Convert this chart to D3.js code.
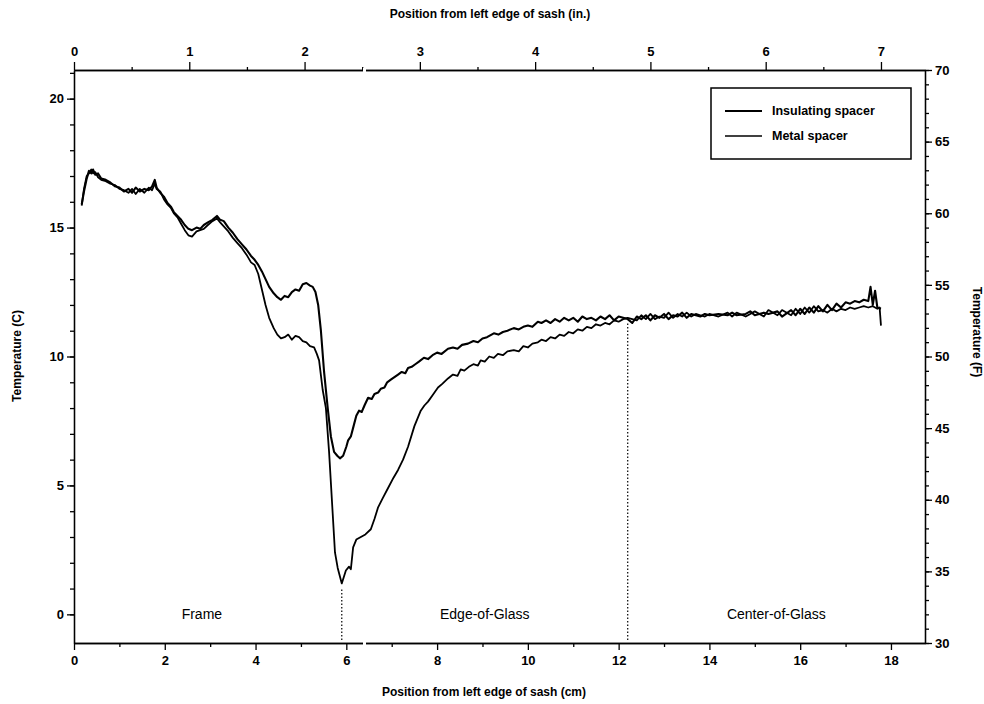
<!DOCTYPE html>
<html>
<head>
<meta charset="utf-8">
<script src="https://cdnjs.cloudflare.com/ajax/libs/d3/7.8.5/d3.min.js"></script>
<style>
body { margin: 0; background: #fff; }
svg { font-family: "Liberation Sans", Arial, sans-serif; }
.axis path, .axis line { stroke: #000; stroke-width: 1.3; }
.axis text { font-size: 13px; font-weight: bold; fill: #000; }
.title { font-size: 12px; font-weight: bold; }
</style>
</head>
<body>
<script>
// data (cm, deg C)
var insulX = [0.17,0.22,0.28,0.33,0.38,0.42,0.47,0.53,0.6,0.7,0.8,0.9,1.0,1.1,1.2,1.28,1.36,1.45,1.55,1.65,1.72,1.78,1.82,1.9,1.98,2.06,2.14,2.2,2.28,2.36,2.44,2.52,2.6,2.7,2.78,2.86,2.95,3.05,3.15,3.22,3.3,3.4,3.5,3.6,3.7,3.8,3.9,3.98,4.06,4.14,4.22,4.3,4.4,4.48,4.56,4.64,4.72,4.8,4.88,4.96,5.04,5.12,5.2,5.26,5.32,5.38,5.44,5.51,5.59,5.66,5.73,5.8,5.86,5.93,6.0,6.04,6.1,6.16,6.22,6.28,6.34,6.4,6.48,6.56,6.62,6.7,6.76,6.84,6.9,6.98,7.06,7.14,7.22,7.3,7.36,7.44,7.52,7.6,7.71,7.8,7.9,8.0,8.1,8.24,8.35,8.45,8.55,8.68,8.8,8.9,9.0,9.1,9.25,9.35,9.45,9.55,9.69,9.8,9.9,10.0,10.1,10.22,10.3,10.4,10.5,10.6,10.7,10.8,10.9,11.0,11.1,11.2,11.3,11.4,11.5,11.6,11.7,11.8,11.9,12.0,12.1,12.2,12.3,12.4,12.5,12.6,12.7,12.8,12.9,13.0,13.1,13.2,13.3,13.4,13.5,13.6,13.7,13.8,13.9,14.0,14.2,14.4,14.5,14.6,14.8,14.9,15.0,15.2,15.3,15.5,15.6,15.8,15.9,16.0,16.1,16.2,16.3,16.4,16.5,16.6,16.7,16.8,16.9,17.0,17.1,17.2,17.3,17.4,17.5,17.55,17.6,17.65,17.7,17.78];
var insulT = [15.9,16.4,16.9,17.2,17.1,17.25,17.05,17.1,16.9,16.85,16.75,16.6,16.55,16.4,16.5,16.35,16.55,16.4,16.5,16.45,16.6,16.85,16.55,16.35,16.2,15.95,15.8,15.6,15.45,15.3,15.1,14.95,14.9,15.0,14.95,15.1,15.2,15.3,15.45,15.3,15.25,15.0,14.8,14.55,14.35,14.15,13.9,13.75,13.55,13.3,13.0,12.7,12.45,12.3,12.2,12.35,12.3,12.5,12.6,12.55,12.8,12.85,12.75,12.7,12.5,12.0,11.0,9.4,8.0,6.9,6.3,6.15,6.05,6.15,6.5,6.75,6.9,7.3,7.7,7.9,7.85,8.1,8.4,8.35,8.55,8.6,8.75,8.8,9.0,9.1,9.2,9.3,9.4,9.35,9.55,9.6,9.7,9.8,9.95,9.9,10.05,10.15,10.1,10.3,10.35,10.3,10.45,10.5,10.6,10.55,10.7,10.75,10.9,10.85,10.95,11.0,11.1,11.05,11.15,11.2,11.15,11.35,11.3,11.4,11.3,11.45,11.35,11.5,11.4,11.5,11.35,11.55,11.45,11.5,11.4,11.55,11.45,11.6,11.4,11.55,11.5,11.45,11.3,11.55,11.45,11.6,11.4,11.6,11.5,11.65,11.45,11.6,11.55,11.7,11.5,11.65,11.6,11.55,11.65,11.6,11.65,11.6,11.7,11.6,11.65,11.75,11.6,11.7,11.65,11.75,11.55,11.8,11.6,11.85,11.65,11.9,11.7,11.95,11.75,12.0,11.8,12.05,11.9,12.1,12.05,12.15,12.1,12.2,12.15,12.7,12.0,12.55,11.9,11.85];

var metalX = [0.17,0.22,0.28,0.33,0.38,0.42,0.47,0.53,0.6,0.7,0.8,0.9,1.0,1.1,1.2,1.28,1.36,1.45,1.55,1.65,1.72,1.78,1.82,1.9,1.98,2.06,2.14,2.2,2.28,2.36,2.44,2.52,2.6,2.7,2.78,2.86,2.95,3.05,3.15,3.22,3.3,3.4,3.5,3.6,3.7,3.8,3.9,3.98,4.06,4.14,4.22,4.3,4.4,4.48,4.56,4.64,4.72,4.8,4.88,4.96,5.04,5.12,5.2,5.29,5.35,5.4,5.48,5.55,5.62,5.7,5.75,5.81,5.9,5.99,6.06,6.1,6.15,6.22,6.32,6.42,6.54,6.62,6.7,6.8,6.92,7.04,7.14,7.25,7.36,7.5,7.64,7.72,7.8,7.9,8.02,8.12,8.24,8.35,8.45,8.52,8.6,8.7,8.8,8.9,8.96,9.05,9.15,9.25,9.34,9.45,9.55,9.69,9.8,9.9,10.0,10.1,10.22,10.3,10.4,10.5,10.6,10.7,10.8,10.9,11.0,11.1,11.2,11.3,11.4,11.5,11.6,11.7,11.8,11.9,12.0,12.1,12.2,12.3,12.4,12.5,12.6,12.7,12.8,12.9,13.0,13.1,13.2,13.3,13.4,13.5,13.6,13.7,13.8,13.9,14.0,14.2,14.4,14.5,14.6,14.8,14.9,15.0,15.2,15.3,15.5,15.6,15.8,15.9,16.0,16.1,16.2,16.3,16.4,16.5,16.6,16.7,16.8,16.9,17.0,17.1,17.2,17.3,17.4,17.5,17.6,17.7,17.75,17.78];
var metalT = [15.85,16.5,17.0,17.1,17.25,17.1,17.15,16.95,16.85,16.8,16.7,16.65,16.5,16.45,16.35,16.5,16.3,16.5,16.35,16.55,16.45,16.7,16.5,16.4,16.1,15.9,15.75,15.55,15.4,15.15,14.9,14.7,14.65,14.85,14.9,14.95,15.1,15.25,15.35,15.2,15.05,14.85,14.6,14.4,14.2,13.95,13.65,13.55,13.2,12.6,12.0,11.5,11.1,10.85,10.7,10.75,10.85,10.65,10.8,10.75,10.6,10.55,10.4,10.35,10.1,9.85,8.7,8.0,6.3,3.9,2.4,1.8,1.2,1.7,1.85,1.75,2.6,2.9,3.0,3.1,3.3,3.7,4.15,4.5,4.9,5.3,5.6,6.0,6.5,7.3,7.9,8.1,8.25,8.5,8.8,8.95,9.15,9.3,9.25,9.5,9.45,9.6,9.7,9.65,9.85,9.8,10.0,9.95,10.1,10.05,10.2,10.25,10.2,10.4,10.35,10.5,10.55,10.65,10.6,10.75,10.7,10.85,10.8,10.95,10.9,11.05,11.0,11.15,11.1,11.25,11.2,11.3,11.25,11.4,11.35,11.45,11.5,11.45,11.4,11.6,11.45,11.65,11.45,11.55,11.5,11.7,11.5,11.65,11.55,11.7,11.55,11.65,11.6,11.55,11.65,11.55,11.7,11.55,11.7,11.55,11.65,11.75,11.55,11.8,11.6,11.8,11.6,11.85,11.65,11.9,11.7,11.95,11.75,11.8,11.7,11.85,11.75,11.85,11.8,11.9,11.85,11.9,11.95,11.9,11.95,11.85,11.9,11.2];

var regionNames = ["Frame", "Edge-of-Glass", "Center-of-Glass"];
var regionBounds = [0, 5.9, 12.2, 18.75];
var dividerTop = [1.2, 11.45];   // where the dotted lines meet the curves (C)

var cmTicks = [0, 2, 4, 6, 8, 10, 12, 14, 16, 18];
var inTicks = [0, 1, 2, 3, 4, 5, 6, 7];
var cTicks = [0, 5, 10, 15, 20];
var fTicks = [30, 35, 40, 45, 50, 55, 60, 65, 70];

var seriesNames = ["Insulating spacer", "Metal spacer"];

var insul = insulX.map(function(d, i){ return {x: d, t: insulT[i]}; });
var metal = metalX.map(function(d, i){ return {x: d, t: metalT[i]}; });

//plot box in page pixels
var boxL = 74, boxR = 925, boxT = 70, boxB = 643;

var svg = d3.select("body").append("svg")
    .attr("width", 984)
    .attr("height", 704);

var x = d3.scaleLinear().domain([0, 18.75]).range([boxL, boxR]);
var xIn = d3.scaleLinear().domain([0, 18.75 / 2.54]).range([boxL, boxR]);
var y = d3.scaleLinear().domain([-10 / 9, 21 + 1 / 9]).range([boxB, boxT]);
var yF = d3.scaleLinear().domain([30, 70]).range([boxB, boxT]);

// axes: major + minor ticks
function drawAxis(gen, tr, major, minor, size, minorSize, cls) {
    var g = svg.append("g").attr("class", "axis " + cls).attr("transform", tr);
    g.call(gen.tickValues(minor).tickSize(minorSize).tickSizeOuter(0).tickFormat(""));
    g.selectAll("text").remove();
    var g2 = svg.append("g").attr("class", "axis " + cls).attr("transform", tr);
    g2.call(gen.tickValues(major).tickSize(size).tickSizeOuter(0).tickFormat(d3.format("d")));
    return g2;
}

drawAxis(d3.axisBottom(x), "translate(0," + boxB + ")", cmTicks, d3.range(1, 19, 2), 7, 4, "xb")
    .selectAll("text").attr("dy", "0.95em");
drawAxis(d3.axisTop(xIn), "translate(0," + boxT + ")", inTicks, d3.range(0.5, 7.5, 1), 8, 3, "xt")
    .selectAll("text").attr("dy", "-0.2em");
drawAxis(d3.axisLeft(y), "translate(" + boxL + ",0)", cTicks, d3.range(0, 22, 1), 7, 4, "yl");
drawAxis(d3.axisRight(yF), "translate(" + boxR + ",0)", fTicks, d3.range(30, 71, 1), 7, 4, "yr");

// little splice gap seen in the top and bottom axis lines
svg.append("rect").attr("x", 363).attr("y", boxT - 2).attr("width", 3).attr("height", 4).attr("fill", "#fff");
svg.append("rect").attr("x", 363).attr("y", boxB - 2).attr("width", 3).attr("height", 4).attr("fill", "#fff");

// titles
svg.append("text").attr("class", "title")
    .attr("x", 490).attr("y", 18).attr("text-anchor", "middle")
    .text("Position from left edge of sash (in.)");
svg.append("text").attr("class", "title")
    .attr("x", 484).attr("y", 696).attr("text-anchor", "middle")
    .text("Position from left edge of sash (cm)");
svg.append("text").attr("class", "title")
    .attr("transform", "translate(21,356) rotate(-90)").attr("text-anchor", "middle")
    .text("Temperature (C)");
svg.append("text").attr("class", "title")
    .attr("transform", "translate(973,332) rotate(90)").attr("text-anchor", "middle")
    .text("Temperature (F)");

// region dividers and names
svg.selectAll(".divider")
    .data(dividerTop)
    .enter().append("line")
    .attr("class", "divider")
    .attr("x1", function(d, i){ return x(regionBounds[i + 1]); })
    .attr("x2", function(d, i){ return x(regionBounds[i + 1]); })
    .attr("y1", boxB - 3)
    .attr("y2", function(d){ return y(d) + 4; })
    .attr("stroke", "#000")
    .attr("stroke-width", 1.2)
    .attr("stroke-dasharray", "1.5,2");

svg.selectAll(".region")
    .data(regionNames)
    .enter().append("text")
    .attr("class", "region")
    .attr("x", function(d, i){ return x((regionBounds[i] + regionBounds[i + 1]) / 2) - (i == 0 ? 6 : 0); })
    .attr("y", y(0) + 5)
    .attr("text-anchor", "middle")
    .attr("font-size", "14px")
    .text(function(d){ return d; });

// curves
var line = d3.line()
    .x(function(d){ return x(d.x); })
    .y(function(d){ return y(d.t); });

svg.append("path").datum(metal)
    .attr("fill", "none").attr("stroke", "#000").attr("stroke-width", 1.8)
    .attr("stroke-linejoin", "round")
    .attr("d", line);
svg.append("path").datum(insul)
    .attr("fill", "none").attr("stroke", "#000").attr("stroke-width", 2.1)
    .attr("stroke-linejoin", "round")
    .attr("d", line);

// legend
var lg = svg.append("g").attr("transform", "translate(711,88)");
lg.append("rect").attr("width", 200).attr("height", 71)
    .attr("fill", "#fff").attr("stroke", "#000").attr("stroke-width", 1.5);
var item = lg.selectAll(".item")
    .data(seriesNames)
    .enter().append("g")
    .attr("transform", function(d, i){ return "translate(0," + (23 + i * 25) + ")"; });
item.append("line")
    .attr("x1", 14).attr("x2", 51)
    .attr("stroke", "#000")
    .attr("stroke-width", function(d, i){ return i == 0 ? 2.2 : 1.6; });
item.append("text")
    .attr("x", 61).attr("dy", "0.35em")
    .attr("font-size", "12.5px").attr("font-weight", "bold")
    .text(function(d){ return d; });
</script>
</body>
</html>
